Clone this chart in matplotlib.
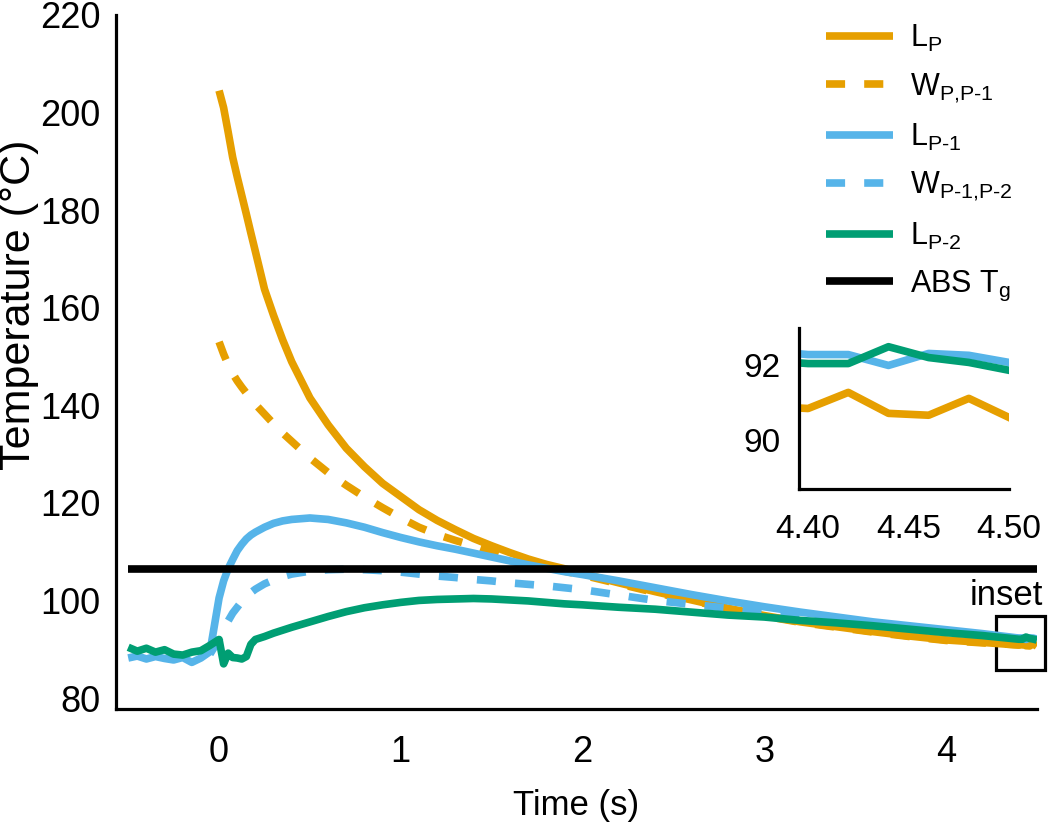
import matplotlib
matplotlib.use("Agg")
import matplotlib.pyplot as plt
import numpy as np
from matplotlib.patches import Rectangle

# Arial-like font, math subscripts in the same family
plt.rcParams["font.family"] = "Liberation Sans"
plt.rcParams["mathtext.fontset"] = "custom"
plt.rcParams["mathtext.rm"] = "Liberation Sans"
plt.rcParams["mathtext.it"] = "Liberation Sans:italic"
plt.rcParams["mathtext.default"] = "regular"

ORANGE = "#E69F00"
BLUE = "#56B4E9"
GREEN = "#009E73"

NAN = np.nan

# Time (s)
TIME = [-0.5, -0.45, -0.4, -0.35, -0.3, -0.25, -0.2, -0.15, -0.1, -0.05,
        0.0, 0.025, 0.05, 0.075, 0.1, 0.125, 0.15, 0.175, 0.2,
        0.25, 0.3, 0.35, 0.4, 0.5, 0.6, 0.7, 0.8, 0.9, 1.0,
        1.1, 1.2, 1.3, 1.4, 1.5, 1.6, 1.7, 1.8, 1.9, 2.0,
        2.2, 2.4, 2.6, 2.8, 3.0, 3.2, 3.4, 3.6, 3.8, 4.0,
        4.2, 4.4, 4.42, 4.44, 4.46, 4.48, 4.5]

# Temperatures (°C)
L_P = [NAN] * 10 + [
    204.5, 201.0, 196.0, 190.8, 186.8, 183.0, 179.2, 175.3, 171.5,
    163.8, 158.4, 153.4, 148.9, 141.5, 136.0, 131.2, 127.4, 124.0, 121.3,
    118.6, 116.4, 114.5, 112.7, 111.2, 109.8, 108.5, 107.4, 106.5, 105.5,
    103.6, 101.8, 100.1, 98.4, 96.9, 95.6, 94.6, 93.6, 92.7, 91.9,
    91.4, 90.85, 91.28, 90.72, 90.67, 91.12, 90.61]

W_P_P1 = [NAN] * 10 + [
    153.0, 150.5, 148.3, 146.5, 145.0, 143.7, 142.5, 141.3, 140.2,
    138.2, 136.2, 134.3, 132.6, 129.2, 126.2, 123.6, 121.2, 119.0, 116.9,
    115.0, 113.5, 112.3, 111.2, 109.9, 108.6, 107.6, 106.8, 106.0, 105.2,
    103.4, 101.6, 100.0, 98.3, 96.8, 95.5, 94.5, 93.5, 92.6, 91.8,
    91.3, 90.9, 90.9, 90.8, 90.8, 90.7, 90.7]

L_P1 = [
    88.2, 88.6, 88.0, 88.5, 88.1, 87.8, 88.3, 87.3, 88.2, 89.5,
    100.5, 104.0, 106.5, 108.4, 110.2, 111.5, 112.6, 113.4, 114.0,
    115.0, 115.8, 116.3, 116.6, 116.9, 116.6, 115.9, 115.0, 113.9, 112.9,
    112.0, 111.2, 110.5, 109.7, 108.9, 108.1, 107.3, 106.6, 105.9, 105.3,
    104.0, 102.6, 101.2, 99.9, 98.7, 97.6, 96.6, 95.6, 94.8, 94.0,
    93.2, 92.29, 92.29, 92.0, 92.32, 92.27, 92.08]

W_P1_P2 = [NAN] * 9 + [
    89.0,
    92.0, 94.0, 95.8, 97.4, 98.6, 99.8, 100.8, 101.6, 102.3,
    103.4, 104.2, 104.9, 105.4, 106.0, 106.3, 106.4, 106.3, 106.1, 105.8,
    105.4, 105.0, 104.7, 104.3, 104.0, 103.6, 103.3, 103.0, 102.6, 102.2,
    101.1, 100.0, 99.2, 98.4, 97.5, 96.6, 95.8, 95.0, 94.3, 93.6,
    92.9, 92.2, 92.2, 92.1, 92.1, 92.0, 92.0]

L_P2 = [
    90.4, 89.6, 90.2, 89.4, 89.9, 89.0, 88.8, 89.4, 89.7, 90.8,
    92.0, 87.0, 89.2, 88.3, 88.2, 88.0, 88.5, 91.0, 92.0,
    92.6, 93.3, 93.9, 94.5, 95.6, 96.7, 97.7, 98.5, 99.1, 99.6,
    100.0, 100.2, 100.3, 100.4, 100.3, 100.1, 99.9, 99.6, 99.3, 99.1,
    98.6, 98.2, 97.6, 97.0, 96.6, 95.9, 95.4, 94.8, 94.1, 93.4,
    92.8, 92.05, 92.05, 92.5, 92.21, 92.08, 91.87]

ABS_TG = 106.4

LABELS = ["L$_{P}$", "W$_{\\text{P,P-1}}$", "L$_{\\text{P-1}}$",
          "W$_{\\text{P-1,P-2}}$", "L$_{\\text{P-2}}$", "ABS T$_{g}$"]

DASH = (0, (2.5, 2.5))
LW = 5.5


def style_axis(ax, size, xpad, ypad):
    for side in ("top", "right"):
        ax.spines[side].set_visible(False)
    for side in ("left", "bottom"):
        ax.spines[side].set_linewidth(2.3)
    ax.tick_params(axis="both", length=0, labelsize=size)
    ax.tick_params(axis="x", pad=xpad)
    ax.tick_params(axis="y", pad=ypad)


fig = plt.figure(figsize=(10.5, 8.27), dpi=100)
ax = fig.add_axes([0.1105, 0.1427, 0.877, 0.8392])

t = np.array(TIME)
series = [
    (L_P, ORANGE, "-"),
    (W_P_P1, ORANGE, DASH),
    (L_P1, BLUE, "-"),
    (W_P1_P2, BLUE, DASH),
    (L_P2, GREEN, "-"),
]
for (vals, color, ls), label in zip(series, LABELS):
    ax.plot(t, vals, color=color, linestyle=ls, lw=LW, label=label,
            solid_capstyle="butt", dash_capstyle="butt")
ax.plot([TIME[0], TIME[-1]], [ABS_TG, ABS_TG], color="black", lw=LW,
        label=LABELS[-1], solid_capstyle="butt")

ax.set_xlim(-0.567, 4.5)
ax.set_ylim(77.75, 220)
ax.set_xticks([0, 1, 2, 3, 4])
ax.set_yticks(range(80, 221, 20))
style_axis(ax, 26, 19, 11)

ax.set_xlabel("Time (s)", fontsize=25)
ax.xaxis.set_label_coords(0.5, -0.115)
fig.text(0.018, 0.632, "Temperature (°C)", fontsize=31, rotation=90,
         ha="center", va="center")

# box marking the zoomed region
ax.add_patch(Rectangle((4.276, 85.7), 0.27, 11.1, fill=False, lw=2.3,
                       edgecolor="black", clip_on=False))
ax.text(4.33, 99.0, "inset", fontsize=25, ha="center", va="baseline")

leg = ax.legend(loc="upper left", bbox_to_anchor=(0.7867, 0.972),
                bbox_transform=fig.transFigure, frameon=False, fontsize=22,
                handlelength=2.2, handletextpad=0.55, labelspacing=0.56,
                borderpad=0, borderaxespad=0)

# inset
axi = fig.add_axes([0.761, 0.4087, 0.200, 0.1947])
for vals, color in [(L_P, ORANGE), (L_P1, BLUE), (L_P2, GREEN)]:
    axi.plot(t, vals, color=color, lw=LW)
axi.set_xlim(4.3955, 4.5)
axi.set_ylim(88.7, 93.0)
axi.set_xticks([4.40, 4.45, 4.50])
axi.set_xticklabels(["4.40", "4.45", "4.50"])
axi.set_yticks([90, 92])
style_axis(axi, 24, 18, 13)

fig.savefig("out.png", dpi=100)
plt.close(fig)
